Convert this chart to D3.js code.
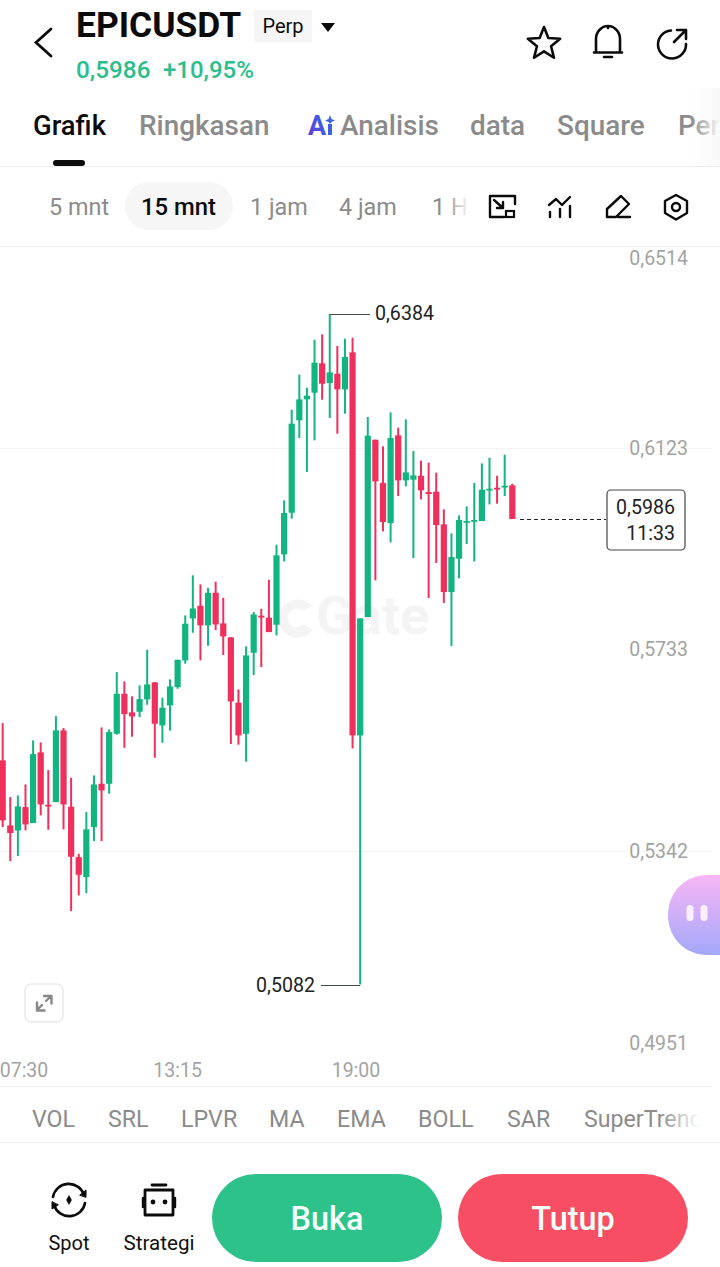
<!DOCTYPE html>
<html>
<head>
<meta charset="utf-8">
<title>EPICUSDT Perp</title>
<script src="https://cdn.jsdelivr.net/npm/d3@7/dist/d3.min.js"></script>
<style>
html,body{margin:0;padding:0;background:#fff;overflow:hidden}
svg{display:block}
text{font-family:Roboto,sans-serif}
</style>
</head>
<body>
<div id="app"></div>
<script>
// 15-minute candles, oldest first
const opens = [0.55172,0.53909,0.53812,0.54265,0.53955,0.55327,0.54311,0.54362,0.55754,0.54272,0.53294,0.52906,0.53877,0.54718,0.54718,0.55689,0.56466,0.56104,0.56116,0.56356,0.56686,0.55851,0.56239,0.56595,0.57113,0.57929,0.58175,0.57793,0.58427,0.57832,0.5756,0.56291,0.55689,0.57262,0.57981,0.57942,
  0.57806,0.59172,0.59981,0.61774,0.62182,0.62311,0.62881,0.62499,0.6268,0.62376,0.63094,0.55657,0.57955,0.61398,0.60557,0.5978,0.61483,0.60609,0.60622,0.60699,0.60382,0.60389,0.59754,0.58441,0.59088,0.598,0.59813,0.59819,0.60415,0.60466,0.60486,0.60512];
const highs = [0.55896,0.5446,0.54492,0.54705,0.5556,0.55521,0.54984,0.56032,0.55799,0.54835,0.53359,0.54168,0.5488,0.55812,0.55773,0.56887,0.56705,0.56414,0.56628,0.5732,0.56693,0.56388,0.56744,0.57126,0.57987,0.58764,0.58589,0.58524,0.58641,0.5833,0.57566,0.5655,0.57385,0.58052,0.58116,0.5868,
  0.5936,0.60221,0.61981,0.62661,0.62408,0.6334,0.63444,0.6384,0.63217,0.6336,0.63379,0.57929,0.61839,0.61398,0.61269,0.61929,0.61632,0.61793,0.61178,0.60991,0.60952,0.60758,0.60046,0.5958,0.59929,0.60104,0.60557,0.60939,0.61049,0.60699,0.61107,0.60544];
const lows = [0.53877,0.53217,0.53314,0.53812,0.53955,0.54104,0.53825,0.54362,0.53832,0.52246,0.5255,0.52595,0.53605,0.53605,0.54524,0.5567,0.55417,0.55631,0.56013,0.56252,0.55223,0.55515,0.55748,0.56563,0.57049,0.5765,0.57113,0.57398,0.57702,0.57217,0.55489,0.55476,0.55146,0.56828,0.56984,0.57663,
  0.57599,0.59036,0.59865,0.61431,0.60771,0.61386,0.62175,0.61819,0.61515,0.61903,0.55405,0.5082,0.57955,0.58667,0.59619,0.59405,0.60305,0.60492,0.59101,0.6024,0.58324,0.59004,0.58227,0.57392,0.58706,0.59373,0.59036,0.59819,0.60143,0.60156,0.60305,0.5986];
const closes = [0.54006,0.53761,0.54278,0.53929,0.55294,0.54317,0.54278,0.55754,0.54317,0.53301,0.52951,0.53832,0.54705,0.54589,0.55722,0.56466,0.56071,0.56026,0.56362,0.56647,0.55883,0.56194,0.56608,0.57126,0.57825,0.58123,0.57793,0.58427,0.57812,0.57579,0.56317,0.55657,0.5721,0.58006,0.57955,0.57663,
  0.59153,0.59975,0.61709,0.62182,0.62253,0.62894,0.62486,0.62706,0.62376,0.63004,0.55657,0.57929,0.61476,0.60589,0.598,0.61431,0.60609,0.60764,0.60706,0.60415,0.60343,0.59742,0.58441,0.5912,0.59839,0.59819,0.59839,0.60428,0.60447,0.60441,0.60505,0.5986];

const priceTicks = [0.6514,0.6123,0.5733,0.5342,0.4951];
const gridPrices = [0.6123,0.5342];
const timeLabels = ["07:30","13:15","19:00"];
const timeCandles = [-0.35,23,46.45];   // candle index each time label sits on
const highLabel = 0.6384, lowLabel = 0.5082, lastPrice = 0.5986, countdown = "11:33";

const symbol = "EPICUSDT", contract = "Perp", changeText = "+10,95%";
const tabNames = ["Grafik","Ringkasan","Analisis","data","Square","Per"];
const tabStarts = [33,139,340,470,557,678];
const intervalNames = ["5 mnt","15 mnt","1 jam","4 jam","1 H"];
const intervalStarts = [49,141,250,339,432];
const indicatorNames = ["VOL","SRL","LPVR","MA","EMA","BOLL","SAR","SuperTrend"];
const indicatorStarts = [32,108,181,269,337,418,507,584];

const UP = "#12b57f", DOWN = "#ef2f5c", INK = "#0b0b0b", GREY = "#8b8b8b";
const W = 720, H = 1267;

const svg = d3.select("#app").append("svg").attr("width",W).attr("height",H).attr("viewBox",`0 0 ${W} ${H}`);
const defs = svg.append("defs");
function fade(id, from, to){
  const g = defs.append("linearGradient").attr("id",id);
  g.append("stop").attr("offset",0).attr("stop-color",from);
  g.append("stop").attr("offset",1).attr("stop-color",to);
}
fade("fadeRight","rgba(255,255,255,0)","#fff");
fade("fadeTab","rgba(250,250,250,0)","#f9f9f9");
const blobFill = defs.append("linearGradient").attr("id","blob").attr("x1",0).attr("y1",0).attr("x2",0).attr("y2",1);
blobFill.append("stop").attr("offset",0).attr("stop-color","#f8b6f4");
blobFill.append("stop").attr("offset",1).attr("stop-color","#a3a8fb");
const aiFill = defs.append("linearGradient").attr("id","ai").attr("x1",0).attr("y1",1).attr("x2",1).attr("y2",0);
aiFill.append("stop").attr("offset",0).attr("stop-color","#6a35d8");
aiFill.append("stop").attr("offset",1).attr("stop-color","#2f6fe8");

const label = (sel,x,y,t,size,fill,weight=400,anchor="start") => sel.append("text")
  .attr("x",x).attr("y",y).attr("font-size",size).attr("fill",fill)
  .attr("font-weight",weight).attr("text-anchor",anchor).text(t);
const rule = (y,x1=0,x2=W,c="#eeeeee") => svg.append("line").attr("x1",x1).attr("x2",x2)
  .attr("y1",y).attr("y2",y).attr("stroke",c).attr("stroke-width",1);
const outline = {fill:"none",stroke:INK,"stroke-width":2.6,"stroke-linejoin":"round","stroke-linecap":"round"};
function icon(d,opts={}){
  const p = svg.append("path").attr("d",d);
  Object.entries({...outline,...opts}).forEach(([k,v])=>p.attr(k,v));
  return p;
}

/* ---------- header ---------- */
icon("M51 29 L36 42.5 L51 56",{"stroke-width":2.8,"stroke-linejoin":"miter"});
label(svg,76,37,symbol,35.4,INK,700);
svg.append("rect").attr("x",254).attr("y",10).attr("width",58).attr("height",32).attr("rx",2).attr("fill","#f5f5f5");
label(svg,283,33,contract,20,INK,400,"middle");
icon("M321 23 H335 L328 32 Z",{fill:INK,stroke:"none"});
const fmt = d3.formatLocale({decimal:",",thousands:".",grouping:[3],currency:["",""]}).format(".4f");
label(svg,76,78,fmt(lastPrice),24.3,"#2bbd8b",500);
label(svg,163,78,changeText,24,"#2bbd8b",500);

// star, bell, share
const star = d3.range(10).map(i=>{
  const r = i%2 ? 7.4 : 17, a = -Math.PI/2 + i*Math.PI/5;
  return [544+r*Math.cos(a), 44+r*Math.sin(a)];
});
icon("M"+star.map(p=>p.join(",")).join("L")+"Z");
icon("M596 52 V39 A12 13 0 0 1 620 39 V52 M594 52.5 H622 M604 57 H612 M608 26 V28");
icon("M686 44 A14 14 0 1 1 671 30.5 M674 42 L686 30 M677 30 H686 V39");

/* ---------- tabs ---------- */
tabNames.forEach((t,i)=>label(svg,tabStarts[i],135,t,i===0?27.4:27.9,i===0?INK:GREY,500));
svg.append("text").attr("x",308).attr("y",135).attr("font-size",27).attr("font-weight",700).attr("fill","url(#ai)").text("A");
svg.append("rect").attr("x",328).attr("y",124).attr("width",4).attr("height",11).attr("fill","#3d63e0");
icon("M330 115 L331.5 119 L335 120.5 L331.5 122 L330 124 L328.5 122 L325 120.5 L328.5 119 Z",{fill:"#3d63e0",stroke:"none"});
svg.append("rect").attr("x",690).attr("y",88).attr("width",30).attr("height",77).attr("fill","url(#fadeTab)");
svg.append("rect").attr("x",53).attr("y",160).attr("width",32).attr("height",6).attr("rx",3).attr("fill",INK);
rule(166.5);

/* ---------- interval row ---------- */
svg.append("rect").attr("x",125).attr("y",182).attr("width",108).attr("height",48).attr("rx",24).attr("fill","#f6f6f6");
intervalNames.forEach((t,i)=>label(svg,intervalStarts[i],215,t,i===1?23.8:23.4,i===1?INK:GREY,i===1?500:400));
svg.append("rect").attr("x",445).attr("y",190).attr("width",25).attr("height",34).attr("fill","url(#fadeRight)");

// chart tools
const thin = {"stroke-width":2.4};
icon("M490 196 H515 V204 M490 196 V217 H504 M494 200 L503 208 M503 202 V208 H497",thin);
svg.append("rect").attr("x",506).attr("y",211).attr("width",8).attr("height",6).attr("fill","none").attr("stroke",INK).attr("stroke-width",2.2);
icon("M549 205 L556 199 L562 205 L570 197 M550 212 V217 M560 209 V217 M570 206 V217",thin);
icon("M607 217 V209 L621 196 L629 204 L616 217 Z M618 217 H630",thin);
icon("M676 195 L687 201 V213 L676 219.5 L665 213 V201 Z",thin);
svg.append("circle").attr("cx",676).attr("cy",207).attr("r",4).attr("fill","none").attr("stroke",INK).attr("stroke-width",2.4);
rule(246.5);

/* ---------- price chart ---------- */
const y = d3.scaleLinear().domain([priceTicks[4],priceTicks[0]]).range([1052,247]);
const x = d3.scaleLinear().domain([0,opens.length-1]).range([2.67,512.3]);

svg.append("g").selectAll("line").data(gridPrices).join("line")
  .attr("x1",0).attr("x2",712).attr("y1",d=>Math.round(y(d))+0.5).attr("y2",d=>Math.round(y(d))+0.5)
  .attr("stroke","#f3f3f3");

// faint exchange watermark
const mark = svg.append("g").attr("fill","#f4f4f4");
mark.append("path").attr("d","M312 606 A19 19 0 1 0 313 630 L303 624 A9 9 0 1 1 302 611 Z");
mark.append("text").attr("x",316).attr("y",634).attr("font-size",54).attr("font-weight",700).text("Gate");

const candles = d3.range(opens.length);
const colour = i => closes[i] >= opens[i] ? UP : DOWN;
const chart = svg.append("g").attr("class","candles");
chart.selectAll("line").data(candles).join("line")
  .attr("x1",x).attr("x2",x)
  .attr("y1",i=>y(highs[i])).attr("y2",i=>y(lows[i]))
  .attr("stroke",colour).attr("stroke-width",2);
chart.selectAll("rect").data(candles).join("rect")
  .attr("x",i=>x(i)-3.1).attr("width",6.2)
  .attr("y",i=>y(Math.max(opens[i],closes[i])))
  .attr("height",i=>Math.max(1.8,Math.abs(y(opens[i])-y(closes[i]))))
  .attr("fill",colour);

// right-hand price axis; the outer labels stay inside the plot
const axis = svg.append("g").attr("transform","translate(688,0)")
  .call(d3.axisLeft(y).tickValues(priceTicks).tickSize(0).tickPadding(0).tickFormat(fmt));
axis.select(".domain").remove();
axis.selectAll("text").attr("font-family","Roboto,sans-serif").attr("font-size",19.5).attr("fill","#a3a3a3")
  .attr("dy",null).attr("dominant-baseline","central")
  .attr("y",d=>d===priceTicks[0]?11:d===priceTicks[4]?-9:0)
  .attr("paint-order","stroke").attr("stroke","#fff").attr("stroke-width",3);

// time axis
const t = d3.scaleOrdinal().domain(timeLabels).range(timeCandles.map(x));
const timeAxis = svg.append("g").attr("transform","translate(0,1077)");
timeAxis.selectAll("text").data(timeLabels).join("text")
  .attr("x",d=>Math.max(24,t(d))).attr("text-anchor","middle")
  .attr("font-size",19.5).attr("fill","#a3a3a3").text(d=>d);

// session high and low callouts
const calloutInk = "#3d4a46";
svg.append("path").attr("d",`M${x(43)} ${Math.round(y(highLabel))+0.5} H370`).attr("fill","none").attr("stroke",calloutInk);
label(svg,375,320,fmt(highLabel),19.6,"#222");
svg.append("path").attr("d",`M${x(47)} ${Math.round(y(lowLabel))+0.5} H321`).attr("fill","none").attr("stroke",calloutInk);
label(svg,315,992,fmt(lowLabel),19.6,"#222",400,"end");

// last price marker
const lastY = Math.round(y(lastPrice))+0.5;
svg.append("line").attr("x1",520).attr("x2",606).attr("y1",lastY).attr("y2",lastY)
  .attr("stroke","#222").attr("stroke-dasharray","4 3");
svg.append("rect").attr("x",607).attr("y",490).attr("width",78).attr("height",60).attr("rx",4)
  .attr("fill","#fff").attr("stroke","#444").attr("stroke-width",1.2);
label(svg,675,514,fmt(lastPrice),19.6,"#222",400,"end");
label(svg,675,540,countdown,19.6,"#222",400,"end");

// expand button
svg.append("rect").attr("x",25).attr("y",984).attr("width",38).attr("height",38).attr("rx",6)
  .attr("fill","#fff").attr("stroke","#e9e9e9").attr("stroke-width",1.5);
icon("M37 1010 L42 1005 M46 1001 L51 996 M44 996 H51.5 V1003.5 M37 1002.5 V1010.5 H44.5",{stroke:"#888","stroke-width":2.4});

// floating assistant
svg.append("path").attr("d","M720 875 H708 C684 875 668 893 668 915 C668 937 684 955 708 955 H720 Z").attr("fill","url(#blob)");
[690,704].forEach(cx=>svg.append("rect").attr("x",cx-3.5).attr("y",905).attr("width",7).attr("height",16).attr("rx",3.5).attr("fill","#fbeffc"));

/* ---------- indicator row ---------- */
rule(1086.5,0,712);
indicatorNames.forEach((n,i)=>label(svg,indicatorStarts[i],1127,n,23.2,GREY));
svg.append("rect").attr("x",660).attr("y",1100).attr("width",40).attr("height",36).attr("fill","url(#fadeRight)");
svg.append("rect").attr("x",700).attr("y",1100).attr("width",20).attr("height",36).attr("fill","#fff");
rule(1142.5);

/* ---------- bottom actions ---------- */
icon("M53 1197 A16 16 0 0 1 84 1195 M85 1203 A16 16 0 0 1 54 1205");
icon("M80 1195 L86 1190 L86 1197 Z M58 1205 L52 1209 L52 1202 Z",{fill:INK,"stroke-width":1});
svg.append("path").attr("d",d3.symbol(d3.symbolDiamond,28)()).attr("transform","translate(69,1200)").attr("fill",INK);
label(svg,69,1250,"Spot",20,"#111",400,"middle");

icon("M145 1190 H173 V1215 H145 Z M152 1185 H166",{"stroke-width":2.8});
icon("M143 1198 V1207 M175 1198 V1207",{"stroke-width":2.4});
[153,165].forEach(cx=>svg.append("circle").attr("cx",cx).attr("cy",1202).attr("r",2.4).attr("fill",INK));
label(svg,159,1250,"Strategi",20.6,"#111",400,"middle");

const actions = [["Buka",212,"#2cc28a"],["Tutup",458,"#f74e63"]];
actions.forEach(([name,left,c])=>{
  svg.append("rect").attr("x",left).attr("y",1174).attr("width",230).attr("height",88).attr("rx",44).attr("fill",c);
  label(svg,left+115,1230,name,32.4,"#f4fff9",500,"middle");
});
</script>
</body>
</html>
